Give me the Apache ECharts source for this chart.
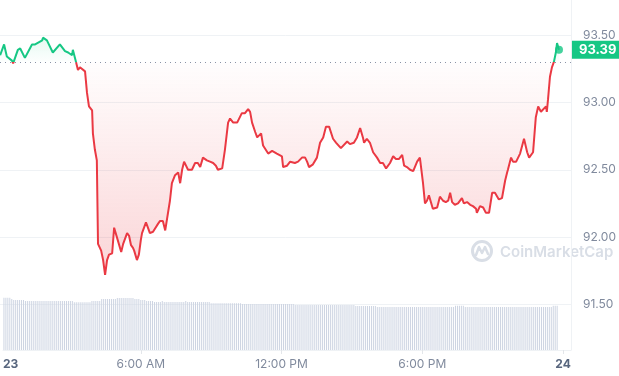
<!DOCTYPE html>
<html>
<head>
<meta charset="utf-8">
<script src="https://cdn.jsdelivr.net/npm/echarts@6/dist/echarts.min.js"></script>
<style>
html,body{margin:0;padding:0;background:#fff;}
#c{width:619px;height:376px;}
</style>
</head>
<body>
<div id="c"></div>
<script>
// Time in minutes since 00:00 on the 23rd
const minutes = [8,18,25,38,41,53,59,71,89,97,115,117,127,132,142,160,173,181,186,191,193,201,206,211,224,227,229,234,242,244,249,254,257,265,270,275,280,285,293,298,305,316,321,326,331,336,341,346,349,356,361,366,369,374,379,384,389,397,402,410,415,422,428,433,440,445,450,453,458,461,466,471,476,486,496,504,511,517,524,534,542,550,557,562,573,580,588,593,601,611,616,623,631,639,644,649,657,662,672,677,690,700,712,725,728,738,746,758,766,776,784,789,794,804,814,822,830,837,845,855,863,868,875,880,891,898,908,916,924,931,934,941,949,957,967,975,982,990,995,1000,1008,1015,1023,1031,1036,1043,1051,1059,1064,1069,1076,1081,1084,1089,1094,1099,1104,1109,1114,1120,1127,1135,1142,1148,1153,1158,1165,1173,1183,1188,1196,1204,1211,1219,1221,1229,1237,1244,1252,1260,1267,1272,1277,1285,1293,1298,1300,1308,1313,1321,1331,1341,1349,1354,1359,1364,1371,1377,1384,1389,1397,1399,1402,1407,1412,1417,1422,1425,1430];
const prices = [93.35,93.43,93.34,93.31,93.29,93.39,93.40,93.33,93.43,93.43,93.46,93.48,93.46,93.46,93.37,93.43,93.38,93.37,93.37,93.35,93.39,93.30,93.24,93.26,93.23,93.24,93.07,92.97,92.94,92.77,92.65,92.57,91.95,91.90,91.83,91.72,91.83,91.87,91.88,92.07,92.00,91.89,91.95,91.96,92.03,92.01,91.94,91.92,91.90,91.83,91.87,91.98,92.03,92.03,92.11,92.07,92.03,92.04,92.05,92.10,92.12,92.12,92.05,92.06,92.27,92.40,92.40,92.46,92.45,92.48,92.40,92.50,92.56,92.50,92.50,92.55,92.55,92.52,92.59,92.57,92.56,92.55,92.53,92.50,92.51,92.65,92.85,92.88,92.85,92.85,92.86,92.92,92.92,92.95,92.93,92.85,92.78,92.74,92.77,92.68,92.62,92.64,92.62,92.60,92.52,92.53,92.56,92.55,92.56,92.59,92.59,92.56,92.52,92.54,92.59,92.70,92.74,92.82,92.82,92.73,92.70,92.71,92.66,92.65,92.71,92.69,92.70,92.74,92.81,92.74,92.70,92.73,92.70,92.63,92.59,92.55,92.55,92.51,92.51,92.55,92.60,92.58,92.58,92.61,92.53,92.52,92.50,92.49,92.50,92.56,92.59,92.59,92.40,92.25,92.27,92.31,92.30,92.21,92.22,92.22,92.30,92.27,92.26,92.27,92.33,92.26,92.24,92.25,92.29,92.25,92.26,92.24,92.23,92.21,92.18,92.23,92.22,92.18,92.18,92.33,92.33,92.33,92.28,92.29,92.42,92.48,92.50,92.59,92.56,92.56,92.62,92.73,92.63,92.59,92.59,92.63,92.89,92.97,92.93,92.92,92.97,92.93,93.02,93.19,93.26,93.30,93.37,93.44,93.39];
const openPrice = 93.30;

// Volume bars: one per 5 minutes starting 00:10
const volStart = 10, volStep = 5;
const volumes = [
 52.3,52.3,52.3,52.3,51,50,50,50,50,50,50,
 49,49,49,49,49,49,49,49,49,49,49,49,49,49,49,49,49,49,49,49,49,49,49,49,49,
 47.7,47.7,47.7,47.7,47.7,47.7,47.7,47.7,47.7,
 49,49,49,49,49,
 51,51,51,51,51,51,51,51,
 52,52,52,52,52,52,52,52,52,
 51,51,51,50,50,50,49,49,49,49,48,48,48,48,49,
 48,48,48,48,48,48,48,48,48,48,48,49,
 48,48,48,48,48,48,48,48,48,48,48,48,
 46.7,46.7,46.7,46.7,46.7,46.7,46.7,46.7,46.7,46.7,46.7,46.7,46.7,46.7,46.7,46.7,
 46,46,46,46,46,46,46,46,46,46,46,46,46,46,46,46,46,46,46,46,46,46,46,46,46,46,46,
 45,45,45,45,45,45,45,45,45,45,45,45,45,45,45,45,45,45,45,45,45,45,45,45,45,45,45,45,45,45,45,
 44,44,44,44,44,44,44,44,44,44,44,
 43,43,43,43,43,43,43,43,43,43,43,43,43,43,43,43,43,43,43,43,43,43,43,43,43,43,43,43,43,43,43,43,43,43,43,43,43,43,43,43,
 44.3,44.3,44.3,44.3,44.3,
 43,43,43,43,43,43,43,43,43,43,43,43,43,43,43,43,43,43,43,43,43,43,43,43,43,43,43,43,43,43,43,43,43,43,43,43,43,43,43,43,43,43,43,43,43,
 44.3,44.3,44.3
];
const xTickValues = [360, 720, 1080, 1440];
const yTicks = {min: 91.5, max: 93.5, interval: 0.5};

const xMin = 7.6, xMax = 1460.4;
const priceData = minutes.map((m, i) => [m, prices[i]]);
const volData = volumes.map((v, i) => [volStart + i * volStep, v]);
const lastPrice = prices[prices.length - 1];
const lastMinute = minutes[minutes.length - 1];

function fmtX(v) {
  if (v < 60) return '{d|23}';
  if (v >= 1440) return '{d|24}';
  const h = Math.floor(v / 60), m = Math.round(v % 60);
  const ap = h >= 12 ? 'PM' : 'AM';
  let hh = h % 12; if (hh === 0) hh = 12;
  return hh + ':' + (m < 10 ? '0' + m : m) + ' ' + ap;
}

const GREEN = '#16c784', RED = '#ea3943';
const chart = echarts.init(document.getElementById('c'), null, {renderer: 'canvas'});
const gridLeft = 0, gridRight = 48;
const option = {
  animation: false,
  textStyle: {fontFamily: 'Inter, Roboto, sans-serif'},
  grid: [
    {left: gridLeft, right: gridRight, top: 35, bottom: 71.5},
    {left: gridLeft, right: gridRight, top: 0, bottom: 26}
  ],
  xAxis: [
    {type: 'value', gridIndex: 0, min: xMin, max: xMax, show: false, splitLine: {show: false}},
    {type: 'value', gridIndex: 1, min: xMin, max: xMax,
      axisLine: {show: true, lineStyle: {color: '#eff2f5'}},
      axisTick: {show: true, customValues: xTickValues, length: 4, lineStyle: {color: '#e3e6ea'}},
      splitLine: {show: false},
      axisLabel: {
        customValues: [xMin].concat(xTickValues),
        formatter: fmtX,
        alignMinLabel: 'left',
        margin: 8,
        color: '#808a9d', fontSize: 12, fontFamily: 'Inter',
        rich: {d: {fontWeight: 'bold', color: '#58667e', fontSize: 12, fontFamily: 'Inter'}}
      }
    }
  ],
  yAxis: [
    {type: 'value', gridIndex: 0, position: 'right', min: yTicks.min, max: yTicks.max, interval: yTicks.interval,
      axisLine: {show: false}, axisTick: {show: false},
      splitLine: {show: true, lineStyle: {color: '#eff2f5'}},
      axisLabel: {margin: 12, color: '#808a9d', fontSize: 12, fontFamily: 'Inter', formatter: v => v.toFixed(2)}
    },
    {type: 'value', gridIndex: 1, position: 'right', min: 0, max: 350,
      axisLine: {show: true, lineStyle: {color: '#eff2f5'}}, axisTick: {show: false},
      axisLabel: {show: false}, splitLine: {show: false}
    }
  ],
  graphic: [
    {type: 'group', left: 470, top: 239, silent: true, z: 0, children: [
      {type: 'circle', shape: {cx: 11, cy: 11, r: 9.5}, style: {fill: 'none', stroke: '#d9dee6', lineWidth: 3}},
      {type: 'polyline', shape: {points: [[5, 15], [8, 7], [11, 13], [14, 7], [17, 14]]}, style: {fill: 'none', stroke: '#d9dee6', lineWidth: 2.5, lineJoin: 'round', lineCap: 'round'}},
      {type: 'text', x: 29, y: 12, style: {text: 'CoinMarketCap', fill: '#d9dee6', font: '600 15px Inter, sans-serif', verticalAlign: 'middle'}}
    ]}
  ],
  series: [
    {type: 'bar', name: 'volume', xAxisIndex: 1, yAxisIndex: 1, data: volData, barWidth: 1,
      itemStyle: {color: '#cdd4e2'}, silent: true, z: 1},
    {type: 'line', id: 'area', xAxisIndex: 0, yAxisIndex: 0, data: priceData, symbol: 'none',
      lineStyle: {width: 0}, silent: true, z: 2,
      areaStyle: {origin: openPrice, color: 'rgba(234,57,67,0.12)'},
      markLine: {
        silent: true, symbol: ['none', 'none'], animation: false,
        data: [
          {yAxis: openPrice, lineStyle: {type: [1, 4], color: '#8a93a6', width: 1}, label: {show: false}},
          {yAxis: lastPrice, lineStyle: {color: 'rgba(255,255,255,0)', width: 0}, label: {
            show: true, position: 'end', distance: 1, formatter: lastPrice.toFixed(2),
            backgroundColor: GREEN, color: '#ffffff', fontWeight: 'bold', fontSize: 13, fontFamily: 'Inter',
            padding: [3, 7, 2, 7], lineHeight: 13, opacity: 1
          }}
        ]
      }
    },
    {type: 'line', id: 'price', xAxisIndex: 0, yAxisIndex: 0, data: priceData, symbol: 'none',
      lineStyle: {width: 2, color: RED}, silent: true, z: 3},
    {type: 'scatter', xAxisIndex: 0, yAxisIndex: 0, data: [[lastMinute, lastPrice]], symbolSize: 8,
      itemStyle: {color: GREEN}, silent: true, z: 4}
  ]
};
chart.setOption(option);

// Colours split at the opening price: green above, red below
const yHi = chart.convertToPixel({yAxisIndex: 0}, Math.max.apply(null, prices));
const yLo = chart.convertToPixel({yAxisIndex: 0}, Math.min.apply(null, prices));
const yBase = chart.convertToPixel({yAxisIndex: 0}, openPrice);
const off = (yBase - yHi) / (yLo - yHi);
const eps = 0.0005;
chart.setOption({series: [
  {id: 'area', areaStyle: {color: {
    type: 'linear', x: 0, y: yHi, x2: 0, y2: yLo, global: true,
    colorStops: [
      {offset: 0, color: 'rgba(22,199,132,0.16)'},
      {offset: Math.max(0, off - eps), color: 'rgba(22,199,132,0.01)'},
      {offset: Math.min(1, off + eps), color: 'rgba(234,57,67,0.01)'},
      {offset: 1, color: 'rgba(234,57,67,0.3)'}
    ]
  }}},
  {id: 'price', lineStyle: {color: {
    type: 'linear', x: 0, y: yHi, x2: 0, y2: yLo, global: true,
    colorStops: [
      {offset: 0, color: GREEN},
      {offset: Math.max(0, off - eps), color: GREEN},
      {offset: Math.min(1, off + eps), color: RED},
      {offset: 1, color: RED}
    ]
  }}}
]});
</script>
</body>
</html>
